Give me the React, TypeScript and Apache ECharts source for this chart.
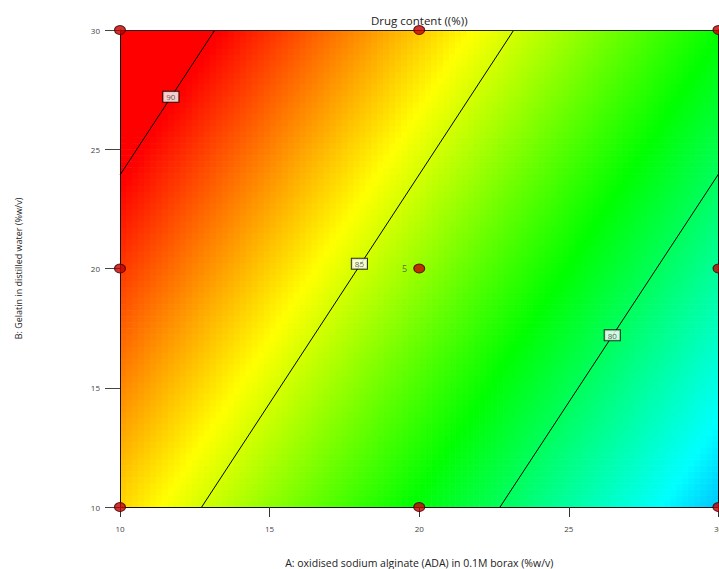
import React, { useEffect, useRef } from "react";
import * as echarts from "echarts";

// ---- data ----
const xTicks = [10, 15, 20, 25, 30];
const yTicks = [10, 15, 20, 25, 30];
// fitted linear response surface: Drug content = c + a*A + b*B
const modelIntercept = 88.77;
const modelCoefA = -0.5015;
const modelCoefB = 0.2615;
const designPoints = [
  [10, 10], [10, 20], [10, 30],
  [20, 10], [20, 30],
  [30, 10], [30, 20], [30, 30],
  [20, 20],
];
const centerReplicates = "5";
const contour90 = [[10, 23.92], [13.17, 30]];
const contour85 = [[12.73, 10], [23.16, 30]];
const contour80 = [[22.7, 10], [30, 23.96]];
const contourLabels = [
  [11.7, 27.2, "90"],
  [18.0, 20.2, "85"],
  [26.45, 17.2, "80"],
];
const xName = "A: oxidised sodium alginate (ADA) in 0.1M borax (%w/v)";
const yName = "B: Gelatin in distilled water (%w/v)";
const titleText = "Drug content ((%))";

// ---- colour scale ----
const colorStops: [number, number[]][] = [
  [73.1, [0, 0, 255]],
  [77.3, [0, 255, 255]],
  [81.5, [0, 255, 0]],
  [85.7, [255, 255, 0]],
  [89.9, [255, 0, 0]],
];
function colorFor(v: number): string {
  if (v <= colorStops[0][0]) return `rgb(${colorStops[0][1].join(",")})`;
  for (let i = 1; i < colorStops.length; i++) {
    const [v1, c1] = colorStops[i];
    const [v0, c0] = colorStops[i - 1];
    if (v <= v1) {
      const t = (v - v0) / (v1 - v0);
      const c = c0.map((x, k) => Math.round(x + (c1[k] - x) * t));
      return `rgb(${c.join(",")})`;
    }
  }
  return `rgb(${colorStops[colorStops.length - 1][1].join(",")})`;
}

const A_MIN = 10, A_MAX = 30, B_MIN = 10, B_MAX = 30;
const nA = 100, nB = 80;
const dA = (A_MAX - A_MIN) / nA;
const dB = (B_MAX - B_MIN) / nB;

function buildSurface() {
  const out: number[][] = [];
  for (let i = 0; i < nA; i++) {
    for (let j = 0; j < nB; j++) {
      const a = A_MIN + (i + 0.5) * dA;
      const b = B_MIN + (j + 0.5) * dB;
      out.push([a, b, modelIntercept + modelCoefA * a + modelCoefB * b]);
    }
  }
  return out;
}

const FONT = "'Open Sans', 'Noto Sans', sans-serif";

export default function App() {
  const ref = useRef<HTMLDivElement>(null);
  useEffect(() => {
    document.body.style.margin = "0";
    document.body.style.overflow = "hidden";
    if (!ref.current) return;
    const chart = echarts.init(ref.current, undefined, { renderer: "svg" });
    const lineSeries = (d: number[][]) => ({
      type: "line",
      data: d,
      symbol: "none",
      silent: true,
      z: 3,
      lineStyle: { color: "#000", width: 1 },
    });
    const baseAxis = {
      type: "value",
      min: 10,
      max: 30,
      interval: 5,
      splitLine: { show: false },
      z: 10,
    };
    chart.setOption({
      animation: false,
      backgroundColor: "#fff",
      textStyle: { fontFamily: FONT },
      grid: {
        left: 120,
        top: 30,
        width: 598.5,
        height: 477,
        containLabel: false,
        outerBoundsMode: "none",
      },
      xAxis: [
        {
          ...baseAxis,
          position: "bottom",
          axisLine: { show: true, onZero: false, lineStyle: { color: "#111", width: 1 } },
          axisTick: { show: true, length: 10, lineStyle: { color: "#333" } },
          axisLabel: {
            margin: 17,
            fontSize: 8,
            color: "#444",
            fontFamily: FONT,
            formatter: (v: number) => (xTicks.includes(v) ? String(v) : ""),
          },
          name: xName,
          nameLocation: "middle",
          nameGap: 50,
          nameTextStyle: { fontSize: 10.5, color: "#222", fontFamily: FONT },
        },
        {
          ...baseAxis,
          position: "top",
          axisLine: { show: true, onZero: false, lineStyle: { color: "#222", width: 1 } },
          axisTick: { show: false },
          axisLabel: { show: false },
          name: titleText,
          nameLocation: "middle",
          nameGap: 4,
          nameTextStyle: { fontSize: 11.5, color: "#222", fontFamily: FONT },
        },
      ],
      yAxis: [
        {
          ...baseAxis,
          position: "left",
          axisLine: { show: true, onZero: false, lineStyle: { color: "#111", width: 1 } },
          axisTick: { show: true, length: 15, lineStyle: { color: "#444" } },
          axisLabel: {
            margin: 20,
            fontSize: 8,
            color: "#444",
            fontFamily: FONT,
            formatter: (v: number) => (yTicks.includes(v) ? String(v) : ""),
          },
          name: yName,
          nameLocation: "middle",
          nameGap: 97,
          nameTextStyle: {
            fontSize: 9,
            color: "#222",
            fontFamily: "'Liberation Sans Narrow', 'Open Sans', sans-serif",
          },
        },
        {
          ...baseAxis,
          position: "right",
          axisLine: { show: true, onZero: false, lineStyle: { color: "#111", width: 1 } },
          axisTick: { show: false },
          axisLabel: { show: false },
        },
      ],
      series: [
        {
          type: "custom",
          data: buildSurface(),
          silent: true,
          z: 1,
          renderItem: (_params: any, api: any) => {
            const a = api.value(0);
            const b = api.value(1);
            const v = api.value(2);
            const p1 = api.coord([a - dA / 2, b + dB / 2]);
            const p2 = api.coord([a + dA / 2, b - dB / 2]);
            return {
              type: "rect",
              shape: {
                x: p1[0],
                y: p1[1],
                width: p2[0] - p1[0] + 0.6,
                height: p2[1] - p1[1] + 0.6,
              },
              style: { fill: colorFor(v), stroke: null },
            };
          },
        },
        lineSeries(contour90),
        lineSeries(contour85),
        lineSeries(contour80),
        {
          type: "scatter",
          data: contourLabels,
          symbolSize: 0,
          silent: true,
          z: 4,
          label: {
            show: true,
            position: "inside",
            formatter: (p: any) => p.value[2],
            fontSize: 8,
            color: "#333",
            fontFamily: FONT,
            backgroundColor: "#fff",
            borderColor: "#000",
            borderWidth: 1,
            padding: [1, 3, 0, 3],
            lineHeight: 9,
          },
        },
        {
          type: "scatter",
          data: designPoints.map((p) => ({
            value: p,
            label:
              p[0] === 20 && p[1] === 20
                ? {
                    show: true,
                    position: "left",
                    distance: 6,
                    formatter: centerReplicates,
                    fontSize: 9,
                    color: "#444",
                    fontFamily: FONT,
                  }
                : { show: false },
          })),
          symbol: "circle",
          symbolSize: [11, 9],
          clip: false,
          silent: true,
          z: 20,
          itemStyle: { color: "#c00000", borderColor: "#3a0000", borderWidth: 1 },
        },
      ],
    });
    return () => chart.dispose();
  }, []);
  return <div ref={ref} style={{ width: 719, height: 569 }} />;
}
